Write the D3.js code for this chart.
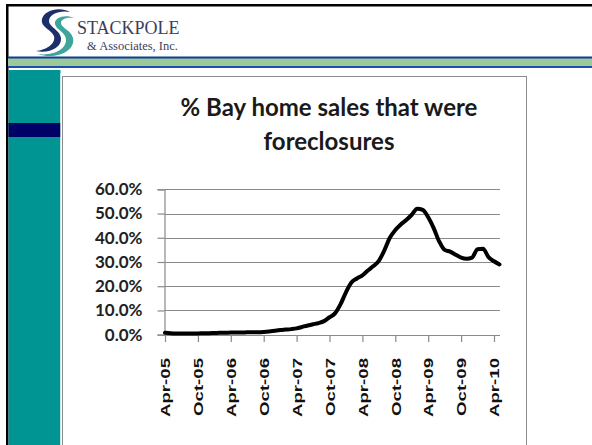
<!DOCTYPE html>
<html>
<head>
<meta charset="utf-8">
<script src="https://cdn.jsdelivr.net/npm/d3@7"></script>
<style>
  body { margin: 0; background: #fff; }
  svg { display: block; }
</style>
</head>
<body>
<div id="chart"></div>
<script>
// --------------------------------------
//  Data (monthly, Apr-05 .. May-10)
// --------------------------------------

const foreclosureShare = [
  0.8, 0.6, 0.5, 0.5, 0.5, 0.5, 0.5, 0.6, 0.6, 0.7, 0.8, 0.8,
  0.9, 0.9, 0.9, 1.0, 1.0, 1.0, 1.1, 1.3, 1.6, 1.9, 2.1, 2.3,
  2.6, 3.2, 3.8, 4.3, 4.8, 5.6, 7.2, 8.8, 12.5, 17.5, 21.5, 23.2,
  24.5, 26.5, 28.3, 30.5, 34.8, 40.0, 43.2, 45.5, 47.3, 49.5, 52.0, 51.5,
  48.5, 44.0, 38.5, 35.0, 34.3, 33.0, 31.8, 31.3, 31.8, 35.3, 35.5, 32.0,
  30.3, 29.0
];

const tickLabels = ["Apr-05", "Oct-05", "Apr-06", "Oct-06", "Apr-07", "Oct-07",
                    "Apr-08", "Oct-08", "Apr-09", "Oct-09", "Apr-10"];
const tickMonths = [0, 6, 12, 18, 24, 30, 36, 42, 48, 54, 60];
const yTicks = [0, 0.1, 0.2, 0.3, 0.4, 0.5, 0.6];

const titleLines = ["% Bay home sales that were", "foreclosures"];

const data = foreclosureShare.map((v, i) => ({month: i, value: v / 100}));

// --------------------------------------
//  Canvas
// --------------------------------------

const width = 592;
const height = 445;

const svg = d3.select("#chart")
  .append("svg")
    .attr("width", width)
    .attr("height", height);

// slide frame / header
svg.append("rect").attr("x", 0).attr("y", 0).attr("width", width).attr("height", height).attr("fill", "#fff");
svg.append("rect").attr("x", 7).attr("y", 4).attr("width", width).attr("height", 2.5).attr("fill", "#000");
svg.append("rect").attr("x", 6).attr("y", 4).attr("width", 2.5).attr("height", height).attr("fill", "#000");
svg.append("rect").attr("x", 8).attr("y", 57).attr("width", width).attr("height", 11).attr("fill", "#9cc99a");
svg.append("rect").attr("x", 8).attr("y", 56.5).attr("width", width).attr("height", 2).attr("fill", "#0b3c96");
svg.append("rect").attr("x", 8).attr("y", 66).attr("width", width).attr("height", 2).attr("fill", "#1f4fa8");
svg.append("rect").attr("x", 8.5).attr("y", 70).attr("width", 52).attr("height", height - 70).attr("fill", "#009593");
svg.append("rect").attr("x", 8.5).attr("y", 123).attr("width", 52).attr("height", 14).attr("fill", "#000066");

// logo
const logo = svg.append("g");
logo.append("path")
  .attr("d", "M70,12 C60,6 44,10 42,19 C40,27 52,30 54,36 C56,44 46,50 36,51 C48,54 62,48 61,38 C60,30 49,27 49,21 C49,14 60,10 70,12 Z")
  .attr("fill", "#1c2f6b");
logo.append("path")
  .attr("d", "M74,18 C66,14 54,17 55,24 C56,30 66,32 66,40 C66,50 52,56 38,54 C54,60 76,52 73,38 C71,30 61,28 61,23 C61,19 67,17 74,18 Z")
  .attr("fill", "#2a9a8e")
  .attr("opacity", 0.9);
logo.append("text")
  .attr("x", 77).attr("y", 34)
  .attr("font-family", "Liberation Serif, DejaVu Serif, serif")
  .attr("font-size", 18)
  .attr("fill", "#3d3d5c")
  .text("STACKPOLE");
logo.append("text")
  .attr("x", 87).attr("y", 50)
  .attr("font-family", "Liberation Serif, DejaVu Serif, serif")
  .attr("font-size", 12.5)
  .attr("fill", "#3d3d5c")
  .text("& Associates, Inc.");

// chart box
svg.append("rect").attr("x", 60.5).attr("y", 73).attr("width", 470).attr("height", height).attr("fill", "#fff");
svg.append("rect")
  .attr("x", 62.5).attr("y", 76.5).attr("width", 464).attr("height", height)
  .attr("fill", "#fff").attr("stroke", "#8c8c8c").attr("stroke-width", 1);

// title
svg.append("text")
  .attr("text-anchor", "middle")
  .attr("font-family", "Lato, 'Open Sans', sans-serif")
  .attr("font-weight", "bold")
  .attr("font-size", 24)
  .attr("fill", "#1a1a1a")
  .selectAll("tspan")
  .data(titleLines)
  .join("tspan")
    .attr("x", 329)
    .attr("y", (d, i) => 116 + i * 34)
    .text(d => d);

// --------------------------------------
//  Scales
// --------------------------------------

const x = d3.scaleLinear()
  .domain([0, 60])
  .range([165, 494]);

const y = d3.scaleLinear()
  .domain([0, 0.6])
  .range([334.7, 189.3]);

// --------------------------------------
//  Grid and axes
// --------------------------------------

svg.append("g")
  .selectAll("line")
  .data(yTicks.slice(1))
  .join("line")
    .attr("x1", 164.5)
    .attr("x2", 500)
    .attr("y1", d => Math.round(y(d)) + 0.5)
    .attr("y2", d => Math.round(y(d)) + 0.5)
    .attr("stroke", "#8a8a8a")
    .attr("stroke-width", 1.2);

const yAxis = svg.append("g")
  .attr("transform", "translate(164.5, 0)")
  .call(d3.axisLeft(y)
    .tickValues(yTicks)
    .tickSize(7)
    .tickPadding(15)
    .tickFormat(d3.format(".1%")));

yAxis.select(".domain").attr("stroke", "#8a8a8a").attr("stroke-width", 1.2);
yAxis.selectAll(".tick line").attr("stroke", "#8a8a8a").attr("stroke-width", 1.2);
yAxis.selectAll(".tick text")
  .attr("font-family", "Lato, 'Open Sans', sans-serif")
  .attr("font-weight", "bold")
  .attr("font-size", 17)
  .attr("fill", "#222");

const xAxis = svg.append("g")
  .attr("transform", "translate(0, 335)")
  .call(d3.axisBottom(x)
    .tickValues(tickMonths)
    .tickSize(7)
    .tickSizeOuter(0)
    .tickFormat((d, i) => tickLabels[i]));

// labels in the original are stretched along their length
const stretch = 1.38;

xAxis.select(".domain").attr("d", `M164.5,0.5H500`).attr("stroke", "#8a8a8a").attr("stroke-width", 1.2);
xAxis.selectAll(".tick line").attr("stroke", "#8a8a8a").attr("stroke-width", 1.2);
xAxis.selectAll(".tick text")
  .attr("font-family", "'Liberation Sans Narrow', 'Arial Narrow', 'Liberation Sans', sans-serif")
  .attr("font-weight", "bold")
  .attr("font-size", 13.5)
  .attr("fill", "#111")
  .attr("text-anchor", "end")
  .attr("transform", `rotate(-90) scale(${stretch}, 1)`)
  .attr("x", -23 / stretch)
  .attr("y", 0)
  .attr("dy", "0.35em");

// --------------------------------------
//  Line
// --------------------------------------

const line = d3.line()
  .x(d => x(d.month))
  .y(d => y(d.value))
  .curve(d3.curveMonotoneX);

svg.append("path")
  .datum(data)
  .attr("fill", "none")
  .attr("stroke", "#000")
  .attr("stroke-width", 4)
  .attr("stroke-linejoin", "round")
  .attr("stroke-linecap", "round")
  .attr("d", line);
</script>
</body>
</html>
